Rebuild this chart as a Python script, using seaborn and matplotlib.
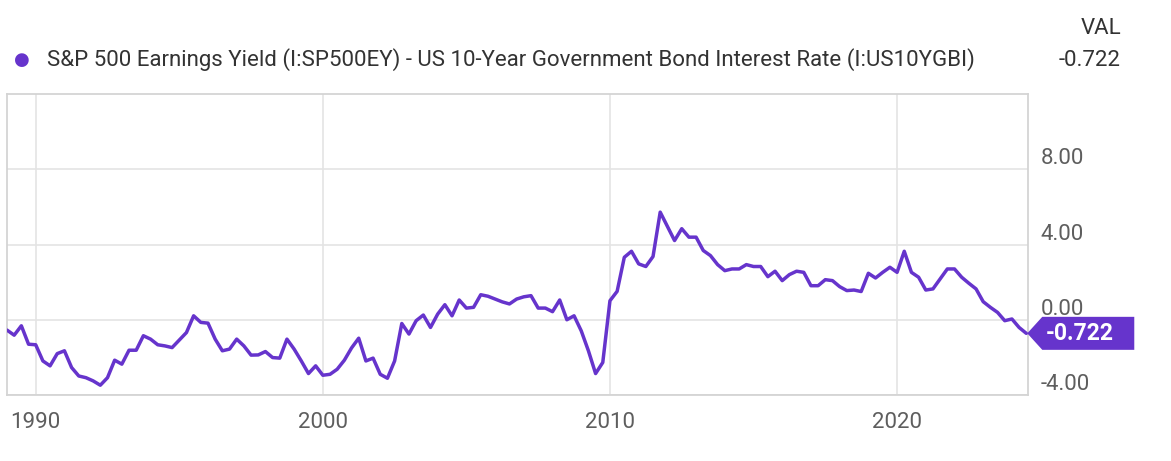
import numpy as np
import pandas as pd
import matplotlib
matplotlib.use("Agg")
import matplotlib.pyplot as plt
from matplotlib.patches import Polygon
import seaborn as sns

# ---------------- data (quarterly, from 1989 Q1) ----------------
start_year = 1989.0
values = [
    -0.55, -0.82, -0.32, -1.30,            # 1989
    -1.33, -2.19, -2.45, -1.80,            # 1990
    -1.65, -2.54, -2.99, -3.08,            # 1991
    -3.25, -3.48, -3.08, -2.15,            # 1992
    -2.36, -1.62, -1.62, -0.85,            # 1993
    -1.03, -1.33, -1.39, -1.48,            # 1994
    -1.08, -0.68, 0.21, -0.14,             # 1995
    -0.18, -1.03, -1.65, -1.56,            # 1996
    -1.03, -1.39, -1.88, -1.87,            # 1997
    -1.69, -2.01, -2.04, -1.03,            # 1998
    -1.56, -2.19, -2.86, -2.45,            # 1999
    -2.95, -2.90, -2.63, -2.15,            # 2000
    -1.50, -0.98, -2.19, -2.04,            # 2001
    -2.90, -3.11, -2.19, -0.20,            # 2002
    -0.76, -0.05, 0.25, -0.41,             # 2003
    0.30, 0.80, 0.21, 1.05,                # 2004
    0.62, 0.66, 1.33, 1.25,                # 2005
    1.10, 0.95, 0.84, 1.10,                # 2006
    1.22, 1.28, 0.62, 0.62,                # 2007
    0.43, 1.05, 0.00, 0.21,                # 2008
    -0.59, -1.65, -2.86, -2.27,            # 2009
    1.01, 1.51, 3.32, 3.64,                # 2010
    2.97, 2.83, 3.36, 5.72,                # 2011
    4.96, 4.21, 4.84, 4.39,                # 2012
    4.39, 3.68, 3.41, 2.93,                # 2013
    2.61, 2.70, 2.70, 2.93,                # 2014
    2.83, 2.83, 2.29, 2.58,                # 2015
    2.08, 2.40, 2.58, 2.52,                # 2016
    1.81, 1.81, 2.13, 2.08,                # 2017
    1.76, 1.55, 1.58, 1.50,                # 2018
    2.47, 2.22, 2.52, 2.79,                # 2019
    2.52, 3.64, 2.52, 2.26,                # 2020
    1.58, 1.64, 2.17, 2.70,                # 2021
    2.70, 2.26, 1.94, 1.64,                # 2022
    0.96, 0.66, 0.39, -0.05,               # 2023
    0.04, -0.41, -0.722,                   # 2024
]
years = start_year + 0.25 * np.arange(len(values))

x_ticks = [1990, 2000, 2010, 2020]
y_ticks = [-4, 0, 4, 8]
y_tick_labels = ["-4.00", "0.00", "4.00", "8.00"]
series_label = ("S&P 500 Earnings Yield (I:SP500EY) - US 10-Year Government "
                "Bond Interest Rate (I:US10YGBI)")
last_label = "-0.722"

df = pd.DataFrame({"year": years, "value": values})

# ---------------- style ----------------
sns.set_theme(style="white")
plt.rcParams["font.family"] = ["Roboto", "DejaVu Sans"]

PURPLE = "#6634CC"
GRID = "#e4e4e4"
FRAME = "#d4d4d4"
TXT = "#5e5e5e"
FS = 16

W, H, DPI = 1171, 461, 100
fig = plt.figure(figsize=(W / DPI, H / DPI), dpi=DPI)
fig.patch.set_facecolor("white")
ax = fig.add_axes([7 / W, 1 - 395 / H, (1028 - 7) / W, (395 - 94) / H])

sns.lineplot(data=df, x="year", y="value", ax=ax, color=PURPLE,
             linewidth=2.5, legend=False, zorder=3)

ax.set_xlim(1989.0, 2024.56)
ax.set_ylim(-4, 12)
ax.set_xticks(x_ticks)
ax.set_xticklabels([str(t) for t in x_ticks])
ax.set_yticks(y_ticks)
ax.set_yticklabels(y_tick_labels)
ax.yaxis.tick_right()
ax.set_xlabel("")
ax.set_ylabel("")
ax.grid(True, color=GRID, linewidth=1.2)
ax.set_axisbelow(True)
for s in ax.spines.values():
    s.set_visible(True)
    s.set_color(FRAME)
    s.set_linewidth(1.3)
ax.tick_params(axis="x", length=0, pad=12, labelsize=FS, labelcolor=TXT)
ax.tick_params(axis="y", length=0, pad=9, labelsize=FS, labelcolor=TXT)
for lbl in ax.get_yticklabels():
    lbl.set_va("bottom")

# ---------------- legend / header ----------------
fig.text(22 / W, 1 - 60 / H, "\u25CF", color=PURPLE, fontsize=13,
         ha="center", va="center", family=["DejaVu Sans"])
fig.text(47 / W, 1 - 60 / H, series_label, color="#333333", fontsize=FS,
         ha="left", va="center")
fig.text(1121 / W, 1 - 28 / H, "VAL", color="#333333", fontsize=FS,
         ha="right", va="center")
fig.text(1121 / W, 1 - 60 / H, last_label, color="#333333", fontsize=FS,
         ha="right", va="center")

# ---------------- last value tag ----------------
fig.canvas.draw()
px, py = ax.transData.transform((years[-1], values[-1]))
tip_x = px + 1
h = 16.5
pts = [(tip_x, py), (tip_x + 15, py + h), (tip_x + 107, py + h),
       (tip_x + 107, py - h), (tip_x + 15, py - h)]
tag = Polygon(pts, closed=True, facecolor=PURPLE, edgecolor="none",
              transform=None, zorder=5)
fig.patches.append(tag)
fig.text((tip_x + 52) / W, py / H, last_label, color="white", fontsize=16.5,
         fontweight="bold", ha="center", va="center", zorder=6)

fig.savefig("out.png", dpi=DPI)
